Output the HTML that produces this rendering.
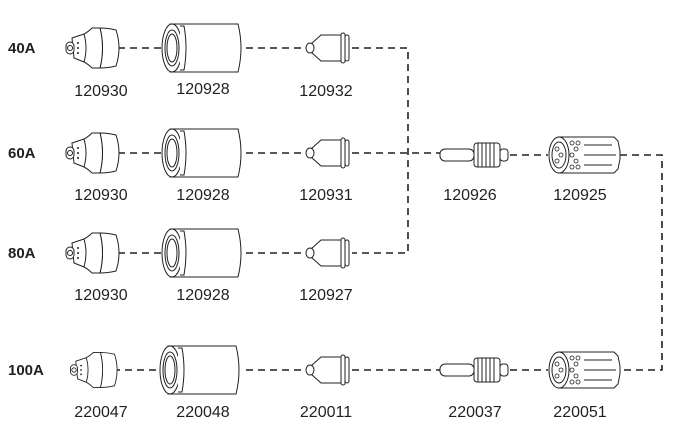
<!DOCTYPE html>
<html><head><style>
body{margin:0;background:#fff}
svg{display:block}
text{font-family:"Liberation Sans",sans-serif;fill:#231f20}
.n{font-size:16px;text-anchor:middle}
.a{font-size:15px;font-weight:bold}
.d{stroke:#231f20;stroke-width:1.6;stroke-dasharray:7 5;fill:none}
.p{stroke:#231f20;stroke-width:1;fill:#fff}
</style></head><body>
<svg width="674" height="425" viewBox="0 0 674 425">
<defs>
<g id="sh">
 <path class="p" d="M30,-20 Q38,-20 46,-18 Q52,0 46,18 Q38,20 30,20 Q35,0 30,-20Z"/>
 <path class="p" d="M30,-20 Q35,0 30,20 L22,20 Q18,16 14,14 L4,10 L2,-10 L14,-14 Q18,-16 22,-20 Z"/>
 <path class="p" d="M14,-14 Q18,0 14,14" fill="none"/>
 <rect class="p" x="-4" y="-6" width="8" height="12" rx="4"/>
 <circle class="p" cx="0" cy="0" r="2.5"/>
 <circle cx="8" cy="-5" r="1" fill="#231f20"/><circle cx="8" cy="0" r="1" fill="#231f20"/><circle cx="8" cy="5" r="1" fill="#231f20"/>
</g>
<g id="rc">
 <path class="p" d="M10,-24 L78,-24 Q84,0 78,24 L10,24 Z"/>
 <ellipse class="p" cx="12" cy="0" rx="10" ry="24"/>
 <ellipse class="p" cx="12" cy="0" rx="7" ry="18"/>
 <ellipse class="p" cx="12" cy="0" rx="5" ry="14"/>
 <path class="p" d="M20,-22 L24,-22 Q28,0 24,22 L20,22" fill="none"/>
</g>
<g id="nz">
 <path class="p" d="M6,-4 L16,-13 L36,-13 L36,13 L16,13 L6,4 Z"/>
 <rect class="p" x="36" y="-15" width="4" height="30" rx="2"/>
 <rect class="p" x="40" y="-13" width="4" height="26" rx="2"/>
 <ellipse class="p" cx="5" cy="0" rx="4" ry="5"/>
</g>
<g id="el">
 <rect class="p" x="0" y="-6" width="34" height="12" rx="5"/>
 <rect class="p" x="34" y="-12" width="26" height="24" rx="3"/>
 <path d="M38,-12 V12 M42,-12 V12 M46,-12 V12 M50,-12 V12 M54,-12 V12" stroke="#231f20" stroke-width="1"/>
 <rect class="p" x="60" y="-6" width="8" height="12" rx="3"/>
</g>
<g id="sw">
 <path class="p" d="M10,-18 L66,-18 L70,-14 L72,-4 L72,4 L70,14 L66,18 L10,18 Z"/>
 <path d="M36,-10 H64 M36,10 H64 M36,0 H68" stroke="#231f20" stroke-width="1"/>
 <ellipse class="p" cx="11" cy="0" rx="10" ry="18"/>
 <ellipse class="p" cx="11" cy="0" rx="7" ry="13"/>
 <g fill="none" stroke="#231f20" stroke-width=".8">
 <circle cx="24" cy="-12" r="2"/><circle cx="28" cy="-6" r="2"/><circle cx="24" cy="0" r="2"/><circle cx="28" cy="6" r="2"/><circle cx="24" cy="12" r="2"/><circle cx="30" cy="-12" r="2"/><circle cx="30" cy="12" r="2"/>
 <circle cx="9" cy="-6" r="2"/><circle cx="13" cy="0" r="2"/><circle cx="9" cy="6" r="2"/></g>
</g>
</defs>

<text class="a" x="8" y="53">40A</text>
<text class="a" x="8" y="158">60A</text>
<text class="a" x="8" y="258">80A</text>
<text class="a" x="8" y="375">100A</text>

<path class="d" d="M118,48 H163 M246,48 H305 M352,48 H408 V253 H352 M246,253 H305 M118,253 H163"/>
<path class="d" d="M118,153 H163 M246,153 H305 M352,153 H440 M510,155 H548 M620,155 H662 V370 H620"/>
<path class="d" d="M113,370 H158 M246,370 H305 M352,370 H440 M510,370 H548"/>

<use href="#sh" x="70" y="48"/>
<use href="#sh" x="70" y="153"/>
<use href="#sh" x="70" y="253"/>
<g transform="translate(74 370) scale(0.88)"><use href="#sh"/></g>

<use href="#rc" x="160" y="48"/>
<use href="#rc" x="160" y="153"/>
<use href="#rc" x="160" y="253"/>
<use href="#rc" x="158" y="370"/>

<use href="#nz" x="305" y="48"/>
<use href="#nz" x="305" y="153"/>
<use href="#nz" x="305" y="253"/>
<use href="#nz" x="305" y="370"/>

<use href="#el" x="440" y="155"/>
<use href="#el" x="440" y="370"/>
<use href="#sw" x="548" y="155"/>
<use href="#sw" x="548" y="370"/>

<text class="n" x="101" y="96">120930</text>
<text class="n" x="203" y="94">120928</text>
<text class="n" x="326" y="96">120932</text>
<text class="n" x="101" y="200">120930</text>
<text class="n" x="203" y="200">120928</text>
<text class="n" x="326" y="200">120931</text>
<text class="n" x="470" y="200">120926</text>
<text class="n" x="580" y="200">120925</text>
<text class="n" x="101" y="300">120930</text>
<text class="n" x="203" y="300">120928</text>
<text class="n" x="326" y="300">120927</text>
<text class="n" x="101" y="417">220047</text>
<text class="n" x="203" y="417">220048</text>
<text class="n" x="326" y="417">220011</text>
<text class="n" x="475" y="417">220037</text>
<text class="n" x="580" y="417">220051</text>
</svg>
</body></html>
